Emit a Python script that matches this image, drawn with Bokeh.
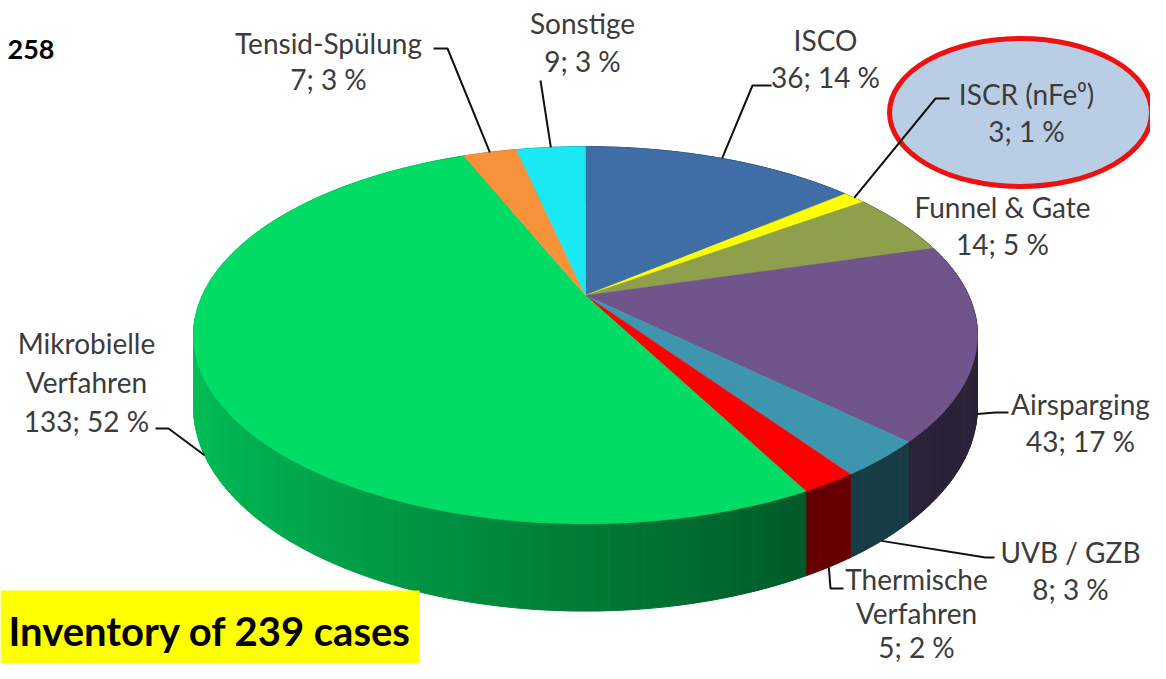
import numpy as np
from bokeh.plotting import figure
from bokeh.models import Range1d, Label
from bokeh.core.properties import value
from bokeh.embed import file_html
from bokeh.resources import INLINE

# ---------------- data ----------------
categories = ["ISCO", "ISCR (nFe\u2070)", "Funnel & Gate", "Airsparging", "UVB / GZB",
              "Thermische\nVerfahren", "Mikrobielle\nVerfahren", "Tensid-Sp\u00fclung", "Sonstige"]
counts = [36, 3, 14, 43, 8, 5, 133, 7, 9]
colors = ["#3f6ea6", "#ffff00", "#8fa04d", "#6f558c", "#3d96ae",
          "#ff0000", "#00dc64", "#f7923a", "#1ae8f5"]
total_label = "258"
footer = "Inventory of 239 cases"

# ---------------- layout (styles / positions) ----------------
W, H = 1150, 663
CX, CY = 585, 295           # apex of the pie on the page
F, CAM_H, DIST, THICK = 1820.0, 2.234, 4.75, 0.18
OFFSET = F * CAM_H / DIST - CY

# label anchor (centre x, first-line centre y), line step, elbow path towards pie
label_pos = {
    0: (825, 39, 37, [(771, 85), (752, 85)]),
    1: (1026, 93, 37, [(949, 98), (935, 98)]),
    2: (1002, 206, 37, None),
    3: (1080, 403, 37, [(1008, 412), (995, 412)]),
    4: (1070, 551, 37, [(994, 557), (985, 557)]),
    5: (916, 578, 34, [(843, 588), (830, 588)]),
    6: (86, 342, 39, [(155, 428), (168, 428)]),
    7: (328, 42, 36, [(433, 48), (447, 48)]),
    8: (582, 22, 38, [(540, 80)]),
}
TEXT_COLOR = "#3c3c3c"
FONT = "Lato"
FSIZE = "28px"


def proj(theta, depth=0.0):
    X = np.sin(theta)
    Z = np.cos(theta)
    sx = CX + F * X / (DIST + Z)
    sy = F * (CAM_H + depth) / (DIST + Z) - OFFSET
    return sx, sy


def shade(hex_color, factor):
    h = hex_color.lstrip("#")
    r, g, b = (int(h[i:i + 2], 16) for i in (0, 2, 4))
    return "#%02x%02x%02x" % (int(r * factor), int(g * factor), int(b * factor))


total = sum(counts)
frac = np.array(counts) / total
ends = np.cumsum(frac) * 2 * np.pi
starts = ends - frac * 2 * np.pi
mids = (starts + ends) / 2

p = figure(width=W, height=H, output_backend="svg", toolbar_location=None,
           x_range=Range1d(0, W), y_range=Range1d(H, 0),
           min_border=0, outline_line_color=None)
p.axis.visible = False
p.grid.visible = False
p.background_fill_color = "white"

# ---------------- side bands (shaded segments) ----------------
seg = []
for i, (a0, a1) in enumerate(zip(starts, ends)):
    n = max(2, int(np.ceil((a1 - a0) / np.radians(1.0))))
    th = np.linspace(a0, a1, n + 1)
    for t0, t1 in zip(th[:-1], th[1:]):
        tx0, ty0 = proj(t0)
        tx1, ty1 = proj(t1)
        bx0, by0 = proj(t0, THICK)
        bx1, by1 = proj(t1, THICK)
        tm = (t0 + t1) / 2
        X = np.sin(tm)
        fac = float(np.clip(0.56 - 0.32 * X, 0.40, 0.88))
        c = shade(colors[i], fac)
        seg.append((np.cos(tm), [tx0, tx1, bx1, bx0], [ty0, ty1, by1, by0], c))
seg.sort(key=lambda s: -s[0])
p.patches([s[1] for s in seg], [s[2] for s in seg], fill_color=[s[3] for s in seg],
          line_color=[s[3] for s in seg], line_width=1)

# ---------------- top faces ----------------
xs_top, ys_top = [], []
for a0, a1 in zip(starts, ends):
    n = max(4, int(np.ceil((a1 - a0) / np.radians(0.5))))
    th = np.linspace(a0, a1, n + 1)
    x, y = proj(th)
    xs_top.append([float(CX)] + list(x))
    ys_top.append([float(CY)] + list(y))
p.patches(xs_top, ys_top, fill_color=colors, line_color=colors, line_width=0.6)

# ---------------- highlight ellipse for ISCR ----------------
p.ellipse(x=1020, y=112, width=262, height=148, fill_color="#b9cde5",
          line_color="#ee1111", line_width=5)

# ---------------- leader lines ----------------
lx, ly = [], []
for i, (xc, yc, step, path) in label_pos.items():
    if not path:
        continue
    z = np.cos(mids[i])
    px, py = proj(mids[i], THICK if z < 0 else 0.0)
    lx.append([q[0] for q in path] + [float(px)])
    ly.append([q[1] for q in path] + [float(py)])
p.multi_line(lx, ly, line_color="#111111", line_width=2)

# ---------------- labels ----------------
tx, ty, tt = [], [], []
for i, (xc, yc, step, path) in label_pos.items():
    pct = round(100 * counts[i] / total)
    lines = categories[i].split("\n") + ["%d; %d %%" % (counts[i], pct)]
    for k, line in enumerate(lines):
        tx.append(xc)
        ty.append(yc + k * step)
        tt.append(line)
p.text(tx, ty, text=tt, text_font=value(FONT), text_font_size=value(FSIZE),
       text_color=TEXT_COLOR, text_align="center", text_baseline="middle")

# ---------------- annotations ----------------
p.add_layout(Label(x=7, y=49, text=total_label, text_font=FONT, text_font_style="bold",
                   text_font_size="27px", text_color="black", text_baseline="middle"))
p.add_layout(Label(x=0, y=630, text=footer, text_font=FONT, text_font_style="bold",
                   text_font_size="40px", text_color="black", text_baseline="middle",
                   background_fill_color="#ffff00", padding=(8, 16)))

open("out.html", "w").write(file_html(p, INLINE))
